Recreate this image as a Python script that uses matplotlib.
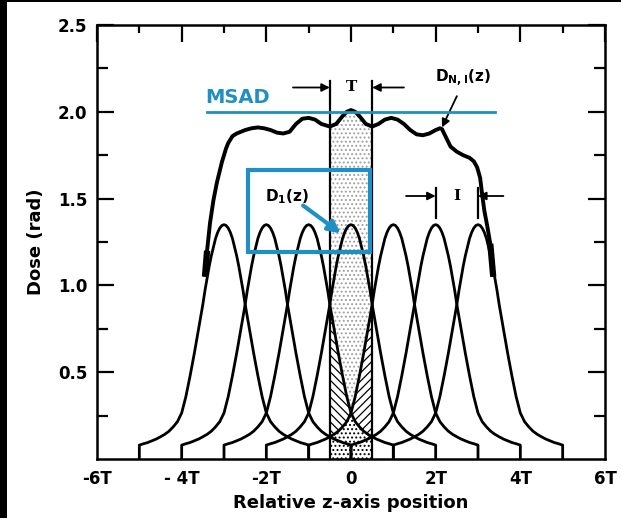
import numpy as np
import matplotlib
matplotlib.use("Agg")
import matplotlib.pyplot as plt
from matplotlib.patches import Rectangle

# single-scan dose profile D1(z): half profile, distance from slice centre (in T) and dose (rad)
profile_offset = [0.0, 0.05, 0.1, 0.15, 0.2, 0.25, 0.3, 0.35, 0.4, 0.45, 0.5, 0.55, 0.6,
                  0.7, 0.8, 0.9, 1.0, 1.1, 1.2, 1.3, 1.4, 1.5, 1.6, 1.7, 1.8, 1.9, 2.0]
profile_dose = [1.35, 1.345, 1.33, 1.305, 1.27, 1.22, 1.17, 1.11, 1.04, 0.97, 0.89, 0.82, 0.75,
                0.61, 0.48, 0.36, 0.265, 0.215, 0.185, 0.16, 0.142, 0.128, 0.115, 0.105,
                0.095, 0.088, 0.08]

# slice centres of the series (in T)
scan_centres = [-3, -2, -1, 0, 1, 2, 3]

# multiple-scan dose profile D_N,I(z)
sum_z = [-3.45, -3.40, -3.33, -3.25, -3.17, -3.10, -3.05, -3.0, -2.95, -2.9, -2.8, -2.7,
         -2.6, -2.5, -2.35, -2.2, -2.05, -1.9, -1.75, -1.6, -1.45, -1.3, -1.15, -1.0,
         -0.85, -0.7, -0.5, -0.35, -0.2, -0.1, 0.0, 0.1, 0.2, 0.35, 0.5, 0.65, 0.8, 0.95,
         1.1, 1.25, 1.4, 1.55, 1.7, 1.85, 2.0, 2.1, 2.15, 2.25, 2.35, 2.5, 2.65, 2.8, 2.9,
         2.98, 3.05, 3.1, 3.15, 3.22, 3.29, 3.36]
sum_dose = [1.05, 1.20, 1.36, 1.49, 1.59, 1.66, 1.71, 1.75, 1.79, 1.82, 1.86, 1.875,
            1.885, 1.895, 1.905, 1.91, 1.905, 1.895, 1.88, 1.875, 1.885, 1.93, 1.96, 1.965,
            1.955, 1.93, 1.915, 1.93, 1.975, 2.0, 2.01, 2.0, 1.975, 1.93, 1.915, 1.93, 1.955,
            1.965, 1.955, 1.93, 1.895, 1.87, 1.865, 1.875, 1.895, 1.905, 1.90, 1.85, 1.80,
            1.77, 1.75, 1.735, 1.715, 1.68, 1.62, 1.52, 1.43, 1.34, 1.24, 1.05]

msad = 2.0
x_ticks = [-6, -4, -2, 0, 2, 4, 6]
x_ticklabels = ["-6T", "- 4T", "-2T", "0", "2T", "4T", "6T"]
y_ticks = [0.5, 1.0, 1.5, 2.0, 2.5]
y_ticklabels = ["0.5", "1.0", "1.5", "2.0", "2.5"]

blue = "#1f8fc4"
plt.rcParams["font.family"] = "DejaVu Sans"
plt.rcParams["font.weight"] = "bold"
plt.rcParams["hatch.linewidth"] = 0.9

fig = plt.figure(figsize=(6.21, 5.18), dpi=100)
ax = fig.add_axes([97 / 621, 59 / 518, 508 / 621, 434 / 518])
ax.set_xlim(-6, 6)
ax.set_ylim(0, 2.5)

# full profile shape (mirror of the half profile), closed to zero at both ends
off = np.array(profile_offset)
dose = np.array(profile_dose)
prof_z = np.concatenate([[-off[-1]], -off[::-1], off[1:], [off[-1]]])
prof_d = np.concatenate([[0.0], dose[::-1], dose[1:], [0.0]])

sz = np.array(sum_z)
sd = np.array(sum_dose)

# central slice region (stippled)
m = (sz >= -0.5) & (sz <= 0.5)
ax.fill_between(sz[m], 0, sd[m], facecolor="white", edgecolor="#a0a0a0",
                hatch="....", linewidth=0, zorder=1)

# contributions of the neighbouring scans inside the central slice
left = (off >= 0.5) & (off <= 1.0)     # right flank of scan at -1 over [-0.5, 0]
ax.fill_between(off[left] - 1, 0, dose[left], facecolor="white", edgecolor="black",
                hatch="\\\\\\\\", linewidth=0, zorder=1.5)
ax.fill_between(1 - off[left], 0, dose[left], facecolor="white", edgecolor="black",
                hatch="////", linewidth=0, zorder=1.5)
far = (off >= 1.0) & (off <= 1.5)      # overlap of both tails
ax.fill_between(off[far] - 1, 0, dose[far], facecolor="white", edgecolor="black",
                hatch="....", linewidth=0, zorder=1.6)
ax.fill_between(1 - off[far], 0, dose[far], facecolor="white", edgecolor="black",
                hatch="....", linewidth=0, zorder=1.6)

for c in scan_centres:
    ax.plot(prof_z + c, prof_d, color="black", lw=2.0, zorder=2,
            solid_joinstyle="round")

ax.plot(sz, sd, color="black", lw=2.8, zorder=3, solid_joinstyle="round",
        solid_capstyle="butt")
ax.plot(sz[:2], sd[:2], color="black", lw=4.5, zorder=3, solid_capstyle="butt")
ax.plot(sz[-2:], sd[-2:], color="black", lw=4.5, zorder=3, solid_capstyle="butt")

# slice width T markers
for zt in (-0.5, 0.5):
    ax.plot([zt, zt], [0, 2.18], color="black", lw=1.6, zorder=3)
ax.annotate("", xy=(-0.5, 2.14), xytext=(-1.37, 2.14),
            arrowprops=dict(arrowstyle="-|>", color="black", lw=1.3,
                            mutation_scale=12, shrinkA=0, shrinkB=0))
ax.annotate("", xy=(0.5, 2.14), xytext=(1.25, 2.14),
            arrowprops=dict(arrowstyle="-|>", color="black", lw=1.3,
                            mutation_scale=12, shrinkA=0, shrinkB=0))
ax.text(0, 2.14, "T", ha="center", va="center", fontsize=11, family="DejaVu Serif")

# scan increment I markers
for zi in (2, 3):
    ax.plot([zi, zi], [1.39, 1.56], color="black", lw=1.6, zorder=3)
ax.annotate("", xy=(2.0, 1.515), xytext=(1.3, 1.515),
            arrowprops=dict(arrowstyle="-|>", color="black", lw=1.3,
                            mutation_scale=12, shrinkA=0, shrinkB=0))
ax.annotate("", xy=(3.0, 1.515), xytext=(3.6, 1.515),
            arrowprops=dict(arrowstyle="-|>", color="black", lw=1.3,
                            mutation_scale=12, shrinkA=0, shrinkB=0))
ax.text(2.5, 1.515, "I", ha="center", va="center", fontsize=11, family="DejaVu Serif")

# D_N,I(z) label
ax.text(2.65, 2.19, r"D$_{\mathbf{N,I}}$(z)", ha="center", va="center", fontsize=11)
ax.annotate("", xy=(2.15, 1.91), xytext=(2.5, 2.09),
            arrowprops=dict(arrowstyle="-|>", color="black", lw=1.3,
                            mutation_scale=12, shrinkA=0, shrinkB=0))

# MSAD line and label
ax.plot([-3.4, 3.4], [msad, msad], color=blue, lw=2.0, zorder=4)
ax.text(-3.45, 2.03, "MSAD", color=blue, fontsize=14, ha="left", va="bottom",
        fontweight="bold", zorder=4)

# highlight box around D1(z)
ax.add_patch(Rectangle((-2.43, 1.19), 2.88, 0.475, facecolor="none",
                       edgecolor=blue, lw=3.0, zorder=5))
ax.text(-1.51, 1.51, r"D$_\mathbf{1}$(z)", ha="center", va="center", fontsize=11, zorder=5)
ax.annotate("", xy=(-0.24, 1.30), xytext=(-1.13, 1.46),
            arrowprops=dict(arrowstyle="-|>", color=blue, lw=3.0,
                            mutation_scale=18, shrinkA=0, shrinkB=0), zorder=6)

# axes styling
for s in ax.spines.values():
    s.set_linewidth(1.8)
ax.set_xticks(x_ticks)
ax.set_xticks(np.arange(-5, 6, 2), minor=True)
ax.set_xticklabels(x_ticklabels)
ax.set_yticks(y_ticks)
ax.set_yticks(np.arange(0.25, 2.5, 0.5), minor=True)
ax.set_yticklabels(y_ticklabels)
ax.tick_params(axis="x", which="both", bottom=False, top=True, direction="in",
               labelbottom=True, width=1.6, pad=8, labelsize=12)
ax.tick_params(axis="x", which="major", length=12)
ax.tick_params(axis="x", which="minor", length=6)
ax.tick_params(axis="y", which="both", left=True, right=True, direction="in",
               width=1.6, pad=7, labelsize=12)
ax.tick_params(axis="y", which="major", length=12)
ax.tick_params(axis="y", which="minor", length=8)
ax.set_xlabel("Relative z-axis position", fontsize=13, fontweight="bold", labelpad=4)
ax.set_ylabel("Dose (rad)", fontsize=13, fontweight="bold", labelpad=9)

# black frame edges of the original figure
fig.patches.append(Rectangle((0, 0), 7 / 621, 1, transform=fig.transFigure,
                             facecolor="black", edgecolor="none"))
fig.patches.append(Rectangle((0, 1 - 2 / 518), 1, 2 / 518, transform=fig.transFigure,
                             facecolor="black", edgecolor="none"))

fig.savefig("out.png", dpi=100)
